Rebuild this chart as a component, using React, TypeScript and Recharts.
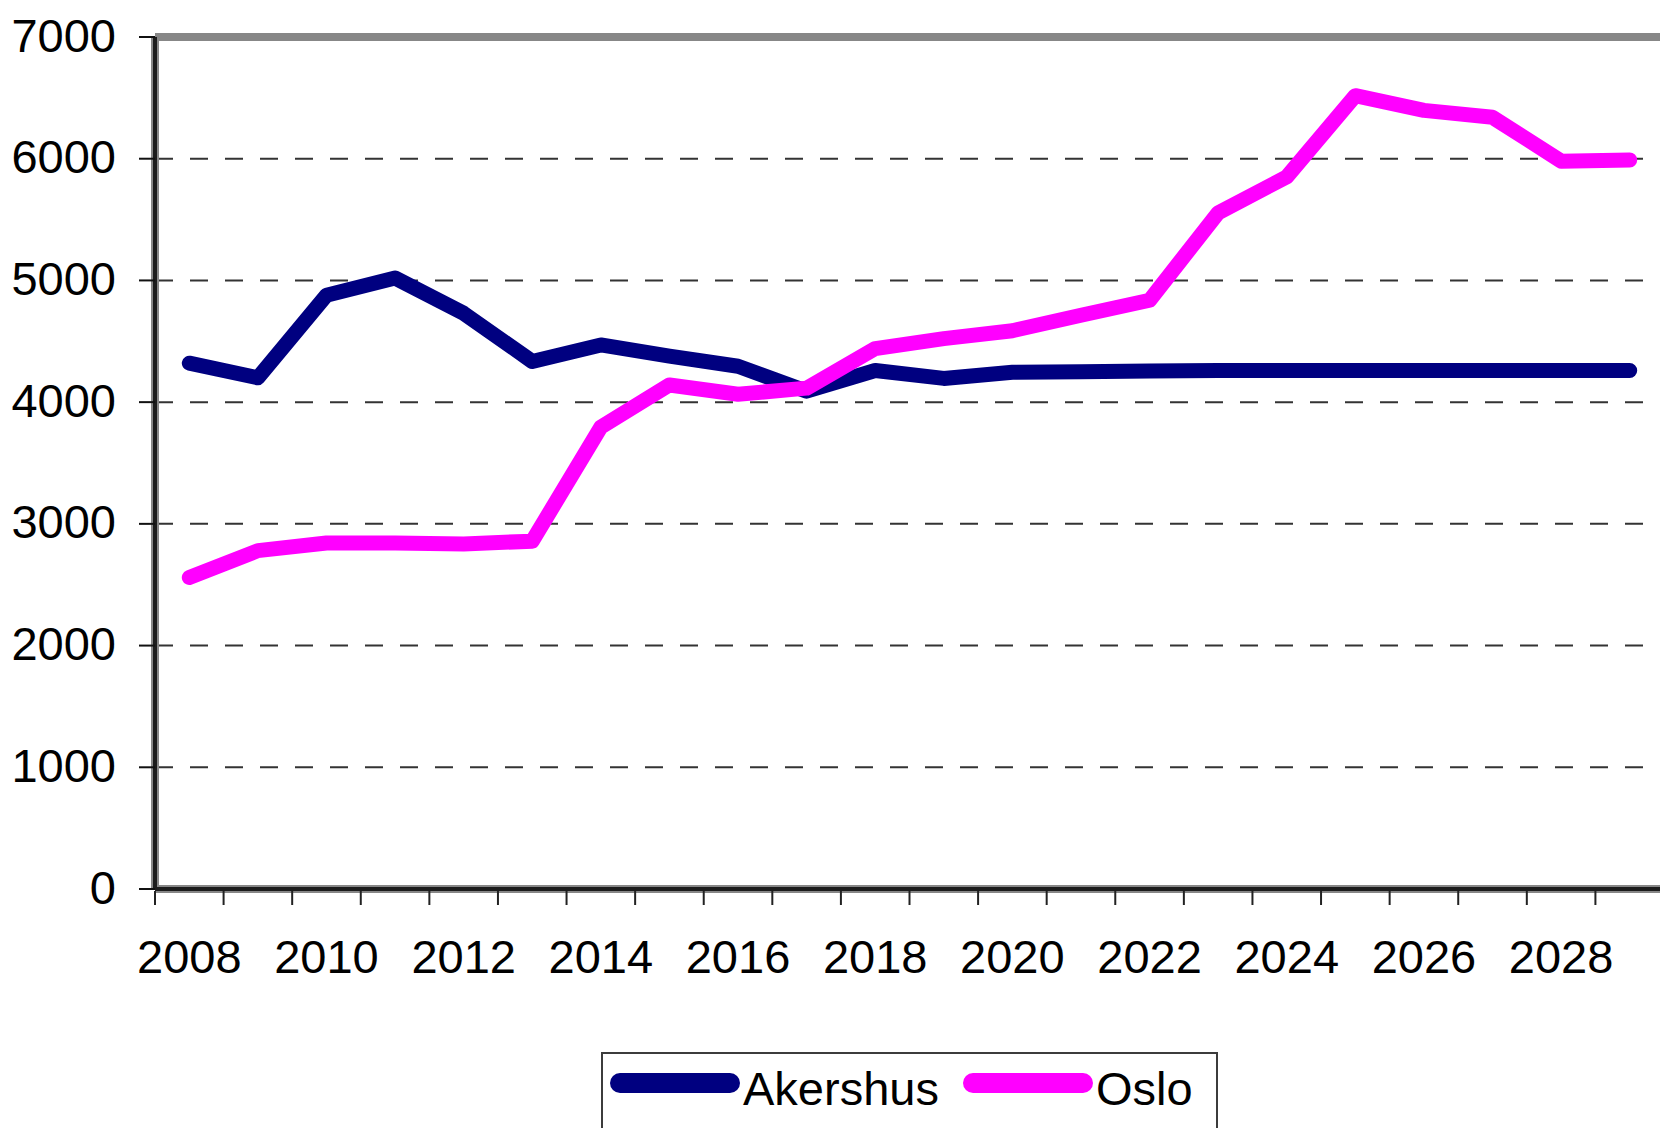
import { CartesianGrid, Legend, Line, LineChart, XAxis, YAxis } from "recharts"

const years = [
  "2008", "2009", "2010", "2011", "2012", "2013", "2014", "2015", "2016", "2017", "2018",
  "2019", "2020", "2021", "2022", "2023", "2024", "2025", "2026", "2027", "2028", "2029",
]

const akershus = [
  4320, 4200, 4878, 5020, 4730, 4334, 4470, 4378, 4295, 4090, 4260,
  4195, 4245, 4250, 4255, 4260, 4260, 4260, 4260, 4260, 4260, 4260,
]

const oslo = [
  2560, 2780, 2843, 2843, 2835, 2858, 3795, 4141, 4065, 4115, 4440,
  4522, 4587, 4714, 4837, 5555, 5851, 6518, 6397, 6340, 5980, 5990,
]

const yTicks = [0, 1000, 2000, 3000, 4000, 5000, 6000, 7000]

const FONT = "'Liberation Sans', Arial, sans-serif"
const CHART_W = 1670
const CHART_H = 1128
const PLOT_LEFT = 155
const PLOT_RIGHT = 1664
const PLOT_TOP = 37
const PLOT_BOTTOM = 889
const STEP = (PLOT_RIGHT - PLOT_LEFT) / years.length

const data = years.map((year, i) => ({
  year,
  Akershus: akershus[i],
  Oslo: oslo[i],
}))

// plot area frame (thick gray border, like the Excel original)
const frameRows = ({ offset }: any) => [offset.top, offset.top + offset.height]
const frameCols = ({ offset }: any) => [offset.left, offset.left + offset.width]

// ticks sit on category boundaries, labels on every other category
const XTick = (props: any) => {
  const { x, y, payload } = props
  const i = props.index ?? payload?.index ?? 0
  const left = x - STEP / 2
  const right = x + STEP / 2
  return (
    <g>
      <line x1={left} x2={left} y1={y + 2} y2={y + 16} stroke="#222" strokeWidth={2} />
      {i === years.length - 1 && (
        <line x1={right} x2={right} y1={y + 2} y2={y + 16} stroke="#222" strokeWidth={2} />
      )}
      {i % 2 === 0 && (
        <text x={x} y={y} dy={84} textAnchor="middle" fontSize={47} fontFamily={FONT} fill="#000">
          {payload.value}
        </text>
      )}
    </g>
  )
}

const YTick = (props: any) => {
  const { x, y, payload } = props
  return (
    <text x={x} y={y} dy={14.5} textAnchor="end" fontSize={47} fontFamily={FONT} fill="#000">
      {payload.value}
    </text>
  )
}

const LegendBox = (props: any) => {
  const items = props.payload ?? []
  return (
    <div
      style={{
        width: 617,
        height: 100,
        boxSizing: "border-box",
        border: "2px solid #3c3c3c",
        background: "#fff",
        display: "flex",
        alignItems: "flex-start",
        paddingLeft: 7,
        fontFamily: FONT,
      }}
    >
      {items.map((item: any, k: number) => (
        <div key={item.value} style={{ display: "flex", alignItems: "flex-start", marginLeft: k === 0 ? 0 : 24 }}>
          <span
            style={{
              display: "block",
              width: 130,
              height: 20,
              borderRadius: 10,
              background: item.color,
              marginTop: 19,
            }}
          />
          <span style={{ display: "block", fontSize: 47, lineHeight: "47px", marginTop: 11, marginLeft: 3, color: "#000" }}>
            {item.value}
          </span>
        </div>
      ))}
    </div>
  )
}

export default function App() {
  return (
    <div
      style={{
        position: "fixed",
        left: 0,
        top: 0,
        width: 1660,
        height: 1128,
        overflow: "hidden",
        background: "#fff",
      }}
    >
      <LineChart
        width={CHART_W}
        height={CHART_H}
        data={data}
        margin={{ top: PLOT_TOP, right: CHART_W - PLOT_RIGHT, bottom: 0, left: 0 }}
      >
        <CartesianGrid vertical={false} stroke="#333" strokeWidth={2} strokeDasharray="18 17" />
        <CartesianGrid
          stroke="#878787"
          strokeWidth={8}
          horizontalCoordinatesGenerator={frameRows}
          verticalCoordinatesGenerator={frameCols}
        />
        <XAxis
          dataKey="year"
          scale="point"
          padding={{ left: STEP / 2, right: STEP / 2 }}
          interval={0}
          height={CHART_H - PLOT_BOTTOM}
          tickSize={0}
          tickMargin={0}
          tickLine={false}
          axisLine={{ stroke: "#1c1c1c", strokeWidth: 4 }}
          tick={<XTick />}
        />
        <YAxis
          type="number"
          domain={[0, 7000]}
          ticks={yTicks}
          interval={0}
          width={PLOT_LEFT}
          tickSize={16}
          tickMargin={23}
          tickLine={{ stroke: "#111", strokeWidth: 2 }}
          axisLine={{ stroke: "#1c1c1c", strokeWidth: 4 }}
          tick={<YTick />}
        />
        <Line
          type="linear"
          dataKey="Akershus"
          name="Akershus"
          stroke="#000080"
          strokeWidth={15}
          strokeLinecap="round"
          strokeLinejoin="round"
          dot={false}
          activeDot={false}
          isAnimationActive={false}
        />
        <Line
          type="linear"
          dataKey="Oslo"
          name="Oslo"
          stroke="#ff00ff"
          strokeWidth={15}
          strokeLinecap="round"
          strokeLinejoin="round"
          dot={false}
          activeDot={false}
          isAnimationActive={false}
        />
        <Legend
          layout="horizontal"
          verticalAlign="middle"
          align="center"
          content={<LegendBox />}
          wrapperStyle={{ left: 601, top: 1052, width: 617, height: 100 }}
        />
      </LineChart>
    </div>
  )
}
